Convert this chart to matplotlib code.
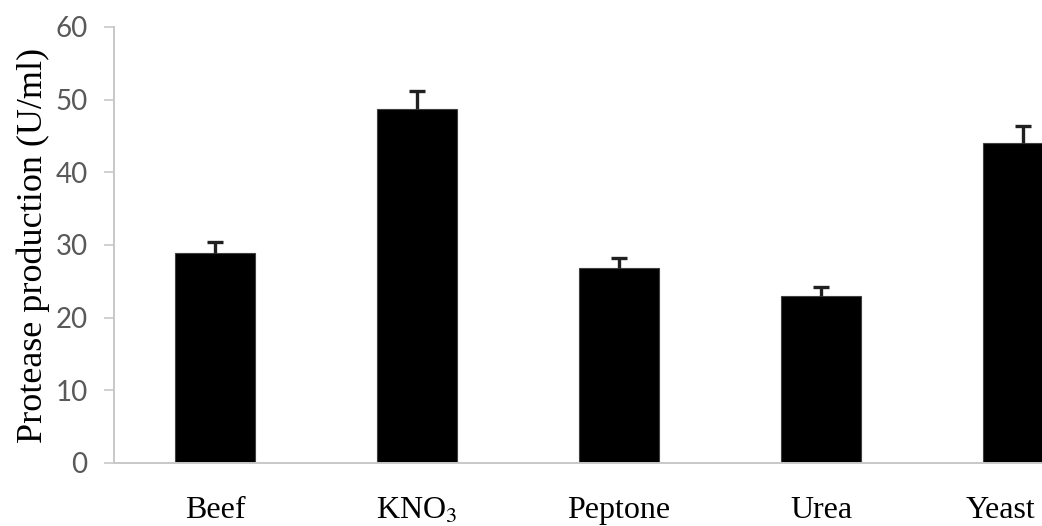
import matplotlib
matplotlib.use('Agg')
import matplotlib.pyplot as plt
import matplotlib.transforms as mtransforms

plt.rcParams['mathtext.fontset'] = 'stix'

sources = ['Beef', 'KNO$_3$', 'Peptone', 'Urea', 'Yeast']
protease = [28.9, 48.7, 26.8, 23.0, 44.0]
protease_err = [1.5, 2.5, 1.4, 1.2, 2.4]
y_ticks = [0, 10, 20, 30, 40, 50, 60]


def main():
    fig = plt.figure(figsize=(10.42, 5.26), dpi=100)
    # axis is cut off on the right like the original crop
    axes = fig.add_axes([0.1094, 0.1198, 0.9693, 0.829])

    x = list(range(len(sources)))
    axes.bar(x, protease, width=0.40, color='black', edgecolor='#404040',
             linewidth=0.8, zorder=2)
    _, caps, _ = axes.errorbar(x, protease,
                               yerr=[[0] * len(protease_err), protease_err],
                               fmt='none', ecolor='#202020', elinewidth=2.4,
                               capsize=6, capthick=2.4, zorder=3)
    # only the upper cap is shown
    caps[0].set_visible(False)

    axes.set_xlim(-0.5, len(sources) - 0.5)
    axes.set_ylim(0, 60)
    axes.set_yticks(y_ticks)
    axes.set_xticks(x)

    axes.tick_params(axis='y', direction='out', length=7, width=1.2,
                     color='#c8c8c8', pad=12)
    axes.tick_params(axis='x', length=0, pad=24)

    axes.set_xticklabels(sources, family='Liberation Serif', fontsize=23,
                         color='black')
    for label in axes.get_yticklabels():
        label.set_family('Lato')
        label.set_fontsize(20)
        label.set_color('#595959')

    for side in ['top', 'right']:
        axes.spines[side].set_visible(False)
    for side in ['left', 'bottom']:
        axes.spines[side].set_color('#c8c8c8')
        axes.spines[side].set_linewidth(1.4)

    axes.set_ylabel('Protease production (U/ml)', family='Liberation Serif',
                    fontsize=26, labelpad=4)

    # last label is pushed left so it stays inside the picture
    last = axes.xaxis.get_major_ticks()[-1].label1
    shift = mtransforms.ScaledTranslation(-23 / 100, 0, fig.dpi_scale_trans)
    last.set_transform(last.get_transform() + shift)

    plt.savefig('out.png', dpi=100)
    plt.close()


if __name__ == '__main__':
    main()
